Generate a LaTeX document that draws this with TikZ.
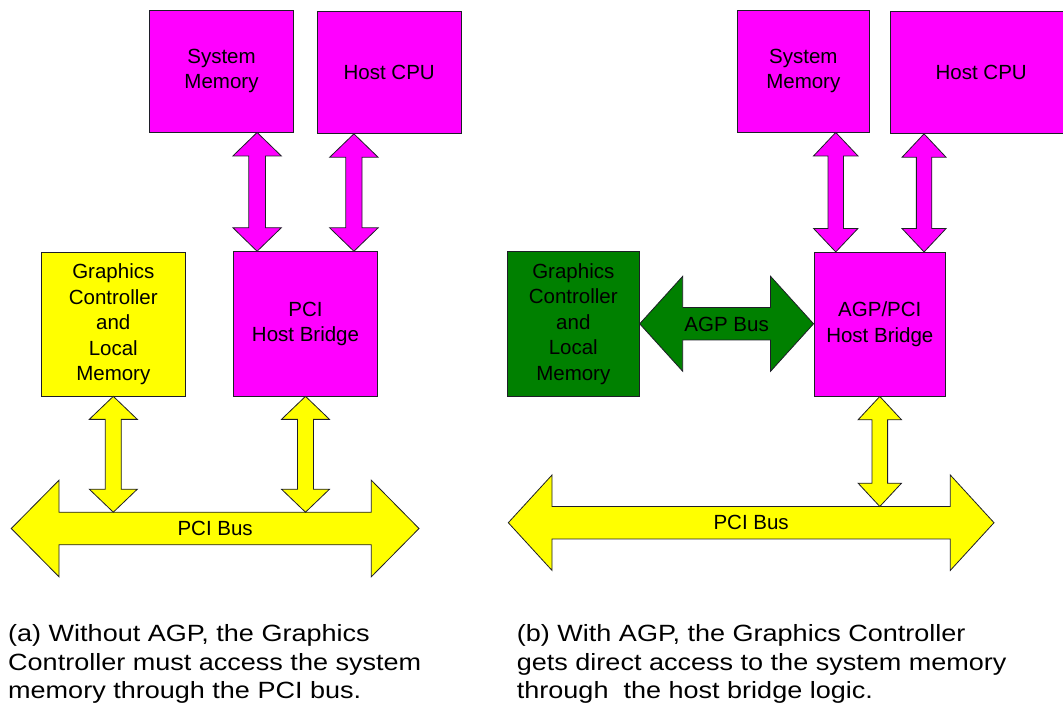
\documentclass[tikz,border=0pt]{standalone}
\usepackage{fontspec}
\setmainfont{Liberation Sans}
\newfontfamily\capfont[FakeStretch=1.15]{Liberation Sans}
\usetikzlibrary{calc}
\definecolor{mag}{RGB}{255,0,255}
\definecolor{yel}{RGB}{255,255,0}
\definecolor{grn}{RGB}{0,128,0}
\definecolor{edge}{RGB}{30,30,40}

% style, top point, bottom point, head half width, shaft half width, head length
\newcommand\vfatarrow[6]{%
  \path[#1] let \p1=(#2), \p2=(#3) in
  (\x1,\y1) -- (\x1+#4,\y1-#6) -- (\x1+#5,\y1-#6) -- (\x1+#5,\y2+#6) -- (\x1+#4,\y2+#6) -- (\x1,\y2)
  -- (\x1-#4,\y2+#6) -- (\x1-#5,\y2+#6) -- (\x1-#5,\y1-#6) -- (\x1-#4,\y1-#6) -- cycle;}
% style, left point, right point, head half height, shaft half height, head length
\newcommand\hfatarrow[6]{%
  \path[#1] let \p1=(#2), \p2=(#3) in
  (\x1,\y1) -- (\x1+#6,\y1+#4) -- (\x1+#6,\y1+#5) -- (\x2-#6,\y1+#5) -- (\x2-#6,\y1+#4) -- (\x2,\y1)
  -- (\x2-#6,\y1-#4) -- (\x2-#6,\y1-#5) -- (\x1+#6,\y1-#5) -- (\x1+#6,\y1-#4) -- cycle;}

\tikzset{
  box/.style={draw=edge, line width=0.8pt, rectangle, align=center, inner sep=0pt,
    font=\fontsize{20.5}{25.5}\selectfont, text=black},
  magbox/.style={box, fill=mag},
  yelbox/.style={box, fill=yel},
  grnbox/.style={box, fill=grn},
  magarrow/.style={draw=edge, line width=0.8pt, fill=mag, line join=miter},
  yelarrow/.style={draw=edge, line width=0.8pt, fill=yel, line join=miter},
  grnarrow/.style={draw=edge, line width=0.8pt, fill=grn, line join=miter},
  lbl/.style={inner sep=0pt, font=\fontsize{20.5}{25.5}\selectfont, text=black},
  captext/.style={inner sep=0pt, anchor=base west, text width=540pt,
    align={flush left}, font=\capfont\fontsize{23.5}{28.3}\selectfont, text=black},
}

\begin{document}
\begin{tikzpicture}[x=1pt,y=-1pt]
\path[use as bounding box, clip] (0,0) rectangle (1063,711);

% ---------------- (a) without AGP ----------------
\node[magbox, minimum width=144.4pt, minimum height=121.7pt] (smA) at (221.5,71.2) {System\\Memory};
\node[magbox, minimum width=144.3pt, minimum height=122.5pt] (cpuA) at (389.2,72.2) {Host CPU};
\node[magbox, minimum width=144.4pt, minimum height=144.3pt] (hbA) at (305.5,323.8) {PCI\\Host Bridge};
\node[yelbox, minimum width=144pt, minimum height=143.3pt] (gcA) at (113.3,324.3) {Graphics\\Controller\\and\\Local\\Memory};

\coordinate (busAl) at (11.3,528.5);
\coordinate (busAr) at (419,528.5);
\coordinate (busAtop) at (0,512.2);
\hfatarrow{yelarrow}{busAl}{busAr}{48.3pt}{16.3pt}{47.7pt}
\node[lbl] (busA) at ($(busAl)!0.5!(busAr)$) {PCI Bus};

\coordinate (a1b) at ($(hbA.north west)+(24.2,0)$);
\coordinate (a2b) at ($(hbA.north east)+(-24.2,0)$);
\vfatarrow{magarrow}{a1b |- smA.south}{a1b}{24.2pt}{8.3pt}{23.5pt}
\vfatarrow{magarrow}{a2b |- cpuA.south}{a2b}{24.2pt}{8.1pt}{23.4pt}
\vfatarrow{yelarrow}{gcA.south}{gcA.south |- busAtop}{24pt}{8pt}{23pt}
\vfatarrow{yelarrow}{hbA.south}{hbA.south |- busAtop}{24pt}{8pt}{23pt}

% ---------------- (b) with AGP ----------------
\node[magbox, minimum width=131.3pt, minimum height=121.7pt] (smB) at (803.3,71.2) {System\\Memory};
\node[magbox, minimum width=181.7pt, minimum height=122.5pt] (cpuB) at (981.2,72.2) {Host CPU};
\node[magbox, minimum width=131.7pt, minimum height=143.7pt] (hbB) at (879.8,324.2) {AGP/PCI\\Host Bridge};
\node[grnbox, minimum width=132pt, minimum height=144.3pt] (gcB) at (573.3,323.8) {Graphics\\Controller\\and\\Local\\Memory};

\hfatarrow{grnarrow}{gcB.east}{hbB.west}{47.5pt}{16.2pt}{43pt}
\node[lbl] (agp) at ($(gcB.east)!0.5!(hbB.west)$) {AGP Bus};

\coordinate (busBl) at (508.3,522.7);
\coordinate (busBr) at (994,522.7);
\coordinate (busBtop) at (0,506.5);
\hfatarrow{yelarrow}{busBl}{busBr}{47.7pt}{16.2pt}{43.7pt}
\node[lbl] (busB) at ($(busBl)!0.5!(busBr)$) {PCI Bus};

\coordinate (b1b) at ($(hbB.north west)+(22.2,0)$);
\coordinate (b2b) at ($(hbB.north east)+(-22,0)$);
\vfatarrow{magarrow}{b1b |- smB.south}{b1b}{22.2pt}{7.7pt}{23.5pt}
\vfatarrow{magarrow}{b2b |- cpuB.south}{b2b}{22pt}{7.7pt}{23.4pt}
\vfatarrow{yelarrow}{hbB.south}{hbB.south |- busBtop}{21.7pt}{7.8pt}{23.3pt}

% ---------------- captions ----------------
\node[captext] (capA) at (8,641.7) {(a) Without AGP, the Graphics\\Controller must access the system\\memory through the PCI bus.};
\node[captext] (capB) at (516.7,641.7) {(b) With AGP, the Graphics Controller\\gets direct access to the system memory\\through~ the host bridge logic.};
\end{tikzpicture}
\end{document}
